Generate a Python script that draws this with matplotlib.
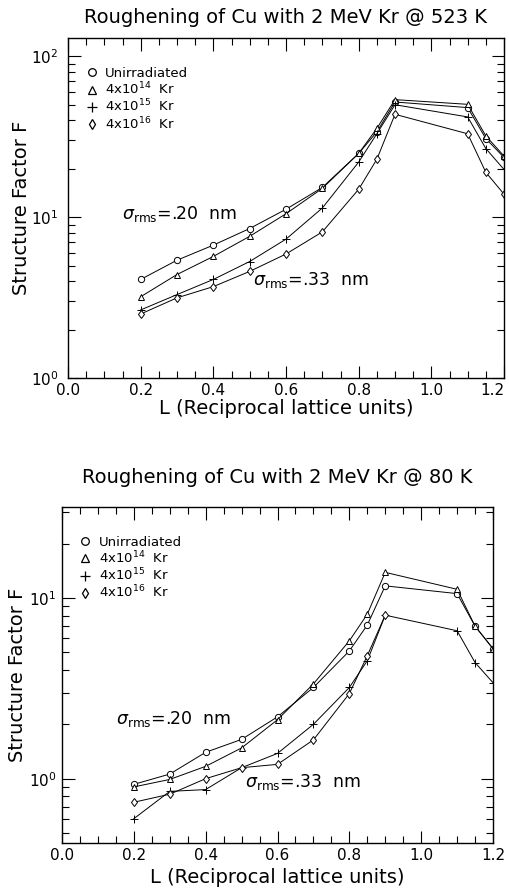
import matplotlib
matplotlib.use("Agg")
import matplotlib.pyplot as plt
from matplotlib.ticker import FixedLocator, MultipleLocator, LogLocator, NullFormatter, FuncFormatter
import numpy as np

# ---- data: structure factor F vs L ----
L_523 = [0.2, 0.3, 0.4, 0.5, 0.6, 0.7, 0.8, 0.85, 0.9, 1.1, 1.15, 1.2]
F523_unirr = [4.1, 5.4, 6.7, 8.5, 11.2, 15.3, 24.9, 33.9, 52, 48, 30.8, 23.5]
F523_1e14 = [3.2, 4.4, 5.7, 7.6, 10.5, 15.1, 24.9, 35.6, 53.8, 50.3, 32, 24]
F523_1e15 = [2.65, 3.3, 4.1, 5.3, 7.3, 11.4, 22, 33, 50, 42, 26.7, 19.8]
F523_1e16 = [2.5, 3.15, 3.7, 4.6, 5.9, 8.1, 14.9, 22.9, 43.6, 33, 19, 13.9]

L_80 = [0.2, 0.3, 0.4, 0.5, 0.6, 0.7, 0.8, 0.85, 0.9, 1.1, 1.15, 1.2]
F80_unirr = [0.93, 1.06, 1.40, 1.65, 2.2, 3.2, 5.1, 7.1, 11.7, 10.6, 7.0, 5.25]
F80_1e14 = [0.90, 0.99, 1.17, 1.48, 2.12, 3.35, 5.8, 8.15, 13.9, 11.2, 7.0, 5.25]
F80_1e15 = [0.60, 0.85, 0.87, 1.15, 1.38, 2.0, 3.2, 4.5, 8.05, 6.6, 4.4, 3.4]
L_80_1e16 = [0.2, 0.3, 0.4, 0.5, 0.6, 0.7, 0.8, 0.85, 0.9]
F80_1e16 = [0.74, 0.82, 1.0, 1.15, 1.2, 1.64, 2.96, 4.8, 8.05]

LABELS = ["Unirradiated", r"4x10$^{14}$  Kr", r"4x10$^{15}$  Kr", r"4x10$^{16}$  Kr"]
MARKERS = ["o", "^", "+", "d"]
XTICKS = [0.0, 0.2, 0.4, 0.6, 0.8, 1.0, 1.2]

W, H = 509, 896
fig = plt.figure(figsize=(W / 100, H / 100), dpi=100)


def px_axes(left, top, right, bottom):
    return fig.add_axes([left / W, 1 - bottom / H, (right - left) / W, (bottom - top) / H])


def logfmt(v, pos):
    e = int(round(np.log10(v)))
    return r"10$^{%d}$" % e


def style(ax, ylim, title, ticks_major, tpad, xlpad, ylpad, ytpad):
    ax.set_yscale("log")
    ax.set_xlim(0, 1.2)
    ax.set_ylim(*ylim)
    ax.set_xticks(XTICKS, [f"{v:.1f}" for v in XTICKS])
    ax.xaxis.set_minor_locator(MultipleLocator(0.05))
    ax.yaxis.set_major_locator(FixedLocator(ticks_major))
    ax.yaxis.set_minor_locator(LogLocator(base=10, subs=np.arange(2, 10)))
    ax.yaxis.set_major_formatter(FuncFormatter(logfmt))
    ax.yaxis.set_minor_formatter(NullFormatter())
    ax.tick_params(which="both", direction="in", top=True, right=True, labelsize=11)
    ax.tick_params(axis="y", pad=ytpad)
    ax.tick_params(which="major", length=9, width=0.8)
    ax.tick_params(which="minor", length=5, width=0.8)
    for s in ax.spines.values():
        s.set_linewidth(1.0)
    ax.set_xlabel("L (Reciprocal lattice units)", fontsize=14, labelpad=xlpad)
    ax.set_ylabel("Structure Factor F", fontsize=14, labelpad=ylpad)
    ax.set_title(title, fontsize=14, pad=tpad)


def draw(ax, xs, ys):
    for x, y, m in zip(xs, ys, MARKERS):
        ax.plot(x, y, color="black", lw=0.7, marker=m, ms=4.5 if m != "+" else 6,
                mfc="white" if m != "+" else "black", mec="black", mew=0.7)
    handles = [plt.Line2D([], [], ls="none", marker=m, color="black", mfc="none",
                          ms=5.5 if m != "+" else 7.5, mew=0.9) for m in MARKERS]
    ax.legend(handles, LABELS, loc="upper left", bbox_to_anchor=(0.03, 0.93),
              frameon=False, handlelength=0.8, handletextpad=0.6, labelspacing=0.05,
              fontsize=9.5, borderaxespad=0)


# top: 523 K
ax1 = px_axes(68, 38, 504, 378)
draw(ax1, [L_523] * 4, [F523_unirr, F523_1e14, F523_1e15, F523_1e16])
style(ax1, (1, 130), "Roughening of Cu with 2 MeV Kr @ 523 K", [1, 10, 100], 11, 1, 0, 7)
ax1.text(0.15, 9.8, r"$\sigma_{\rm rms}$=.20  nm", fontsize=12.5)
ax1.text(0.51, 3.8, r"$\sigma_{\rm rms}$=.33  nm", fontsize=12.5)

# bottom: 80 K
ax2 = px_axes(62, 507, 493, 843)
draw(ax2, [L_80, L_80, L_80, L_80_1e16], [F80_unirr, F80_1e14, F80_1e15, F80_1e16])
style(ax2, (0.44, 32), "Roughening of Cu with 2 MeV Kr @ 80 K", [1, 10], 17, 4, 1, 4)
ax2.text(0.15, 2.0, r"$\sigma_{\rm rms}$=.20  nm", fontsize=12.5)
ax2.text(0.51, 0.90, r"$\sigma_{\rm rms}$=.33  nm", fontsize=12.5)

# keep the last tick label of the top panel inside the figure
ax1.get_xticklabels()[-1].set_horizontalalignment("right")

fig.savefig("out.png", dpi=100)
